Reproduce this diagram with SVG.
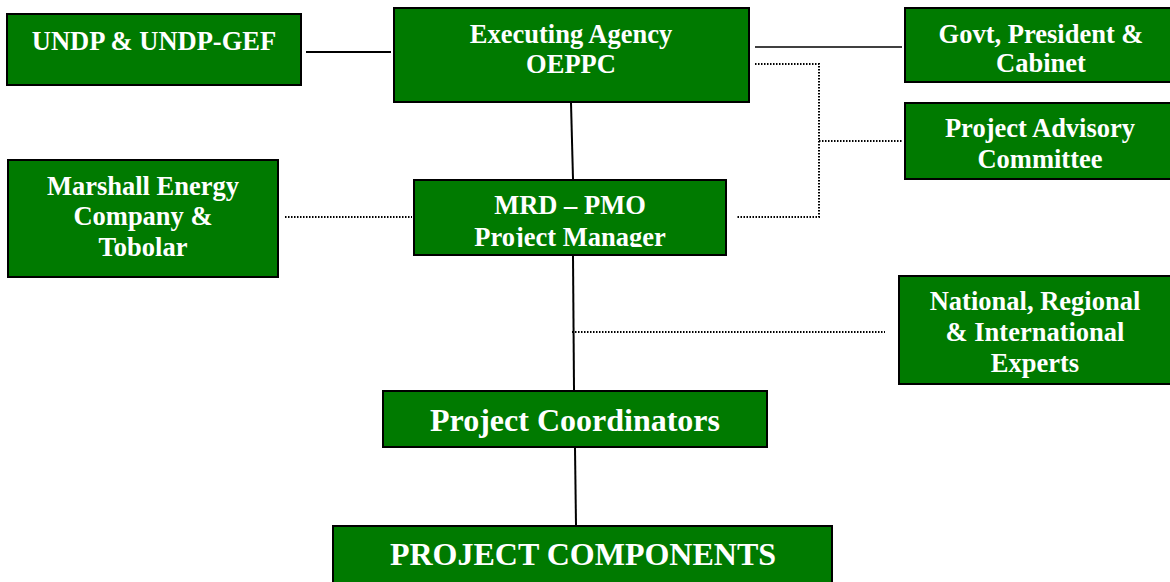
<svg xmlns="http://www.w3.org/2000/svg" width="1170" height="582" viewBox="0 0 1170 582">
<style>
.box{fill:#007a00;stroke:#000;stroke-width:2}
.t{font-family:"Liberation Serif","Times New Roman",serif;font-weight:bold;fill:#fff;text-anchor:middle;font-size:26.5px}
.big{font-size:32px}
.solid{stroke:#000;stroke-width:2;fill:none}
.thin{stroke:#000;stroke-width:1.5;fill:none}
.dot{stroke:#000;stroke-width:2;fill:none;stroke-dasharray:1.5 1.5}
</style>
<defs>
<clipPath id="mrdclip"><rect x="414" y="180" width="312" height="67"/></clipPath>
</defs>
<rect width="1170" height="582" fill="#fff"/>
<g id="connectors">
<path class="solid" d="M306,52 H391"/>
<path class="thin" d="M755,47 H902"/>
<path class="dot" d="M755,64 H819 V217 H737"/>
<path class="dot" d="M819,141 H902"/>
<path class="dot" d="M285,217 H412"/>
<path class="solid" d="M571,103 L573,179"/>
<path class="solid" d="M573,256 L574,390"/>
<path class="solid" d="M575,448 L576,525"/>
<path class="dot" d="M572,332 H885"/>
</g>
<g id="undp">
<rect class="box" x="7" y="14" width="294" height="71"/>
<text class="t" x="154" y="50">UNDP &amp; UNDP-GEF</text>
</g>
<g id="executing">
<rect class="box" x="394" y="8" width="355" height="94"/>
<text class="t" x="571" y="43">Executing Agency</text>
<text class="t" x="571" y="73">OEPPC</text>
</g>
<g id="govt">
<rect class="box" x="905" y="8" width="280" height="74"/>
<text class="t" x="1041" y="43">Govt, President &amp;</text>
<text class="t" x="1041" y="72">Cabinet</text>
</g>
<g id="advisory">
<rect class="box" x="905" y="103" width="280" height="76"/>
<text class="t" x="1040" y="137">Project Advisory</text>
<text class="t" x="1040" y="168">Committee</text>
</g>
<g id="marshall">
<rect class="box" x="8" y="160" width="270" height="117"/>
<text class="t" x="143" y="195">Marshall Energy</text>
<text class="t" x="143" y="225">Company &amp;</text>
<text class="t" x="143" y="256">Tobolar</text>
</g>
<g id="mrd">
<rect class="box" x="414" y="180" width="312" height="75"/>
<g clip-path="url(#mrdclip)">
<text class="t" x="570" y="214">MRD – PMO</text>
<text class="t" x="570" y="246">Project Manager</text>
</g>
</g>
<g id="experts">
<rect class="box" x="899" y="276" width="285" height="108"/>
<text class="t" x="1035" y="310">National, Regional</text>
<text class="t" x="1035" y="341">&amp; International</text>
<text class="t" x="1035" y="372">Experts</text>
</g>
<g id="coordinators">
<rect class="box" x="383" y="391" width="384" height="56"/>
<text class="t big" x="575" y="431">Project Coordinators</text>
</g>
<g id="components">
<rect class="box" x="333" y="526" width="499" height="70"/>
<text class="t big" x="583" y="565">PROJECT COMPONENTS</text>
</g>
</svg>
